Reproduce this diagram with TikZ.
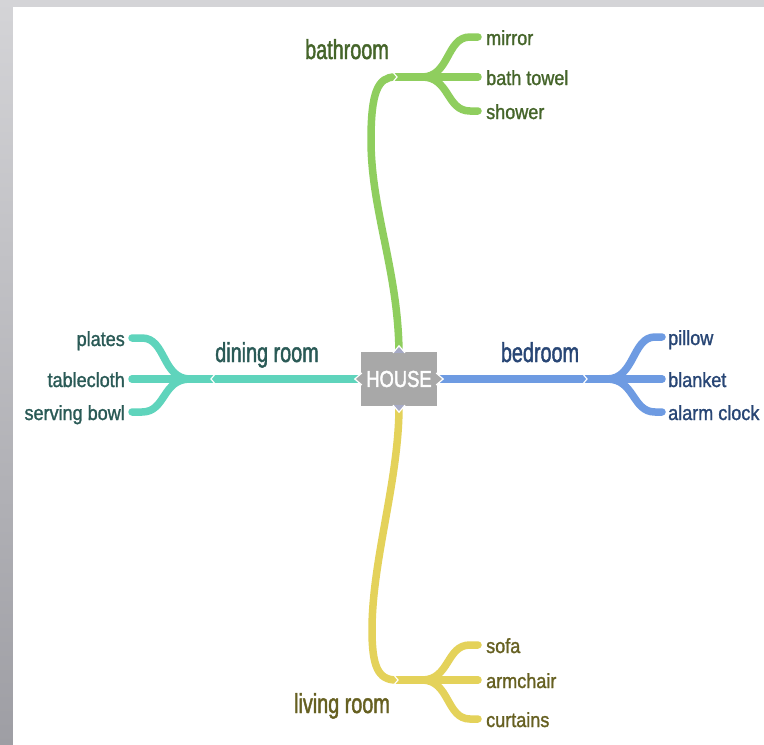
\documentclass[tikz,border=0pt]{standalone}
\usepackage{fontspec}
\setmainfont{Liberation Sans}
\newfontfamily\itemfont[FakeStretch=0.88,FakeBold=1.3]{Liberation Sans}
\newfontfamily\branchfont[FakeStretch=0.72,FakeBold=1.5]{Liberation Sans}
\newfontfamily\housefont[FakeStretch=0.8,FakeBold=2]{Liberation Sans}
\usetikzlibrary{calc}
\definecolor{bathline}{HTML}{8FCE5E}
\definecolor{bathtext}{HTML}{45652A}
\definecolor{dinline}{HTML}{5FD4BC}
\definecolor{dintext}{HTML}{2A5A56}
\definecolor{bedline}{HTML}{6E9BE2}
\definecolor{bedtext}{HTML}{284675}
\definecolor{livline}{HTML}{E4D25A}
\definecolor{livtext}{HTML}{666021}
\definecolor{boxgray}{HTML}{A8A8A8}
\definecolor{tipblue}{HTML}{A6AAC6}
\definecolor{frametop}{HTML}{D4D4D7}
\definecolor{framebot}{HTML}{9E9EA4}
\tikzset{
  conn/.style={line width=7.5pt, line cap=round},
  itemlbl/.style={inner sep=0pt, font=\itemfont\fontsize{20.5}{20.5}\selectfont},
  branchlbl/.style={inner sep=0pt, font=\branchfont\fontsize{27.5}{27.5}\selectfont},
  housebox/.style={fill=boxgray, text=white, minimum width=76pt, minimum height=54pt, inner sep=0pt, font=\housefont\fontsize{23}{23}\selectfont},
  notch/.style={draw=white, line width=1.2pt},
}
\begin{document}
\begin{tikzpicture}[x=1pt,y=-1pt]
\useasboundingbox (0,0) rectangle (764,745);
% frame
\shade[top color=frametop, bottom color=framebot] (0,0) rectangle (13,745);
\fill[frametop] (13,0) rectangle (764,7);
\fill[white] (13,7) rectangle (764,745);

% nodes
\node[housebox] (house) at (399,379) {HOUSE};

\node[branchlbl, text=bathtext, anchor=base] (bath) at (347,59) {bathroom};
\node[branchlbl, text=dintext, anchor=base] (din) at (267,362) {dining room};
\node[branchlbl, text=bedtext, anchor=base] (bed) at (540,362) {bedroom};
\node[branchlbl, text=livtext, anchor=base] (liv) at (342,713) {living room};

\node[itemlbl, text=bathtext, anchor=base west] (mirror) at (486,45) {mirror};
\node[itemlbl, text=bathtext, anchor=base west] (towel) at (486,85) {bath towel};
\node[itemlbl, text=bathtext, anchor=base west] (shower) at (486,119) {shower};

\node[itemlbl, text=bedtext, anchor=base west] (pillow) at (668,345) {pillow};
\node[itemlbl, text=bedtext, anchor=base west] (blanket) at (668,387) {blanket};
\node[itemlbl, text=bedtext, anchor=base west] (alarm) at (668,420) {alarm clock};

\node[itemlbl, text=dintext, anchor=base east] (plates) at (125,346) {plates};
\node[itemlbl, text=dintext, anchor=base east] (cloth) at (125,387) {tablecloth};
\node[itemlbl, text=dintext, anchor=base east] (bowl) at (125,420) {serving bowl};

\node[itemlbl, text=livtext, anchor=base west] (sofa) at (486,653) {sofa};
\node[itemlbl, text=livtext, anchor=base west] (arm) at (486,688) {armchair};
\node[itemlbl, text=livtext, anchor=base west] (curt) at (486,727) {curtains};

% coordinates: notches, splits, ends
\coordinate (bathN) at (395,77);
\coordinate (bathS) at (422,77);
\coordinate (bedN) at (585,379);
\coordinate (bedS) at (607,379);
\coordinate (dinN) at (213,379);
\coordinate (dinS) at (190,379);
\coordinate (livN) at (396,680);
\coordinate (livS) at (422,680);

\coordinate (mirrorE) at (478,37);
\coordinate (towelE) at (478,77);
\coordinate (showerE) at (478,111);
\coordinate (pillowE) at (662,337);
\coordinate (blanketE) at (662,379);
\coordinate (alarmE) at (662,412);
\coordinate (platesE) at (132,338);
\coordinate (clothE) at (132,379);
\coordinate (bowlE) at (132,412);
\coordinate (sofaE) at (478,645);
\coordinate (armE) at (478,680);
\coordinate (curtE) at (478,719);

% bathroom
\begin{scope}[conn, draw=bathline]
\draw (house.north) .. controls (398,270) and (371,210) .. (371,140)
      .. controls (371,92) and (378,77) .. (bathN);
\draw (bathN) -- (towelE);
\draw (bathS) .. controls (450,77) and (446,37) .. (470,37) -- (mirrorE);
\draw (bathS) .. controls (450,77) and (446,111) .. (470,111) -- (showerE);
\end{scope}
% bedroom
\begin{scope}[conn, draw=bedline]
\draw (house.east) -- (bedN) -- (blanketE);
\draw (bedS) .. controls (635,379) and (632,337) .. (655,337) -- (pillowE);
\draw (bedS) .. controls (635,379) and (632,412) .. (655,412) -- (alarmE);
\end{scope}
% dining room
\begin{scope}[conn, draw=dinline]
\draw (house.west) -- (dinN) -- (clothE);
\draw (dinS) .. controls (162,379) and (166,338) .. (142,338) -- (platesE);
\draw (dinS) .. controls (162,379) and (166,412) .. (142,412) -- (bowlE);
\end{scope}
% living room
\begin{scope}[conn, draw=livline]
\draw (house.south) .. controls (399,480) and (372,560) .. (372,630)
      .. controls (372,666) and (378,680) .. (livN);
\draw (livN) -- (armE);
\draw (livS) .. controls (450,680) and (446,645) .. (470,645) -- (sofaE);
\draw (livS) .. controls (450,680) and (446,719) .. (470,719) -- (curtE);
\end{scope}

% notches on the lines
\draw[notch] ($(bathN)+(-3,-6)$) -- ($(bathN)+(2,0)$) -- ($(bathN)+(-3,6)$);
\draw[notch] ($(bedN)+(-3,-6)$) -- ($(bedN)+(2,0)$) -- ($(bedN)+(-3,6)$);
\draw[notch] ($(dinN)+(3,-6)$) -- ($(dinN)+(-2,0)$) -- ($(dinN)+(3,6)$);
\draw[notch] ($(livN)+(-3,-6)$) -- ($(livN)+(2,0)$) -- ($(livN)+(-3,6)$);

% house box again on top, with tips
\node[housebox] at (house) {HOUSE};
\filldraw[fill=tipblue, notch] ($(house.north)+(-6,1)$) -- ($(house.north)+(0,-6)$) -- ($(house.north)+(6,1)$);
\filldraw[fill=tipblue, notch] ($(house.south)+(-6,-1)$) -- ($(house.south)+(0,6)$) -- ($(house.south)+(6,-1)$);
\filldraw[fill=boxgray, notch] ($(house.west)+(1,-6)$) -- ($(house.west)+(-6,0)$) -- ($(house.west)+(1,6)$);
\filldraw[fill=boxgray, notch] ($(house.east)+(-1,-6)$) -- ($(house.east)+(6,0)$) -- ($(house.east)+(-1,6)$);
\end{tikzpicture}
\end{document}
